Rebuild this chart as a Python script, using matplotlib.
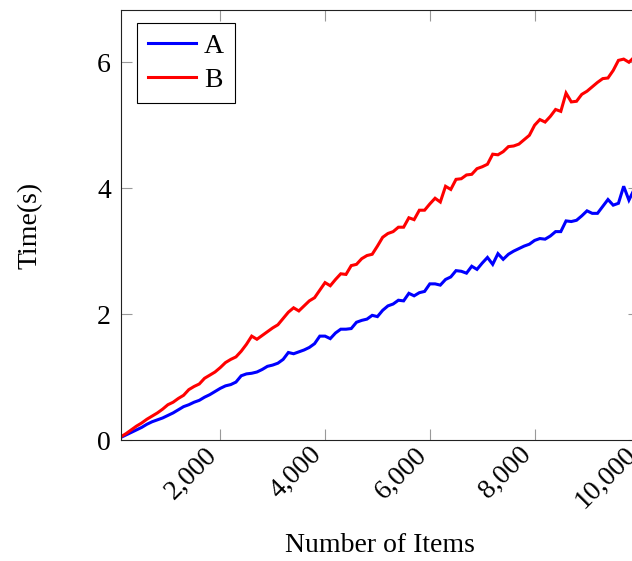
import matplotlib
matplotlib.use("Agg")
import matplotlib.pyplot as plt
from matplotlib.ticker import FuncFormatter, FixedLocator
from matplotlib.transforms import ScaledTranslation

plt.rcParams['font.family'] = ['Liberation Serif', 'DejaVu Serif']

items = list(range(100, 10001, 100))

time_a = [0.04, 0.08, 0.12, 0.16, 0.20, 0.25, 0.29, 0.32, 0.35, 0.39,
          0.43, 0.48, 0.53, 0.56, 0.60, 0.63, 0.68, 0.72, 0.77, 0.82,
          0.86, 0.88, 0.92, 1.02, 1.05, 1.06, 1.08, 1.12, 1.17, 1.19,
          1.22, 1.28, 1.39, 1.37, 1.40, 1.43, 1.47, 1.53, 1.65, 1.65,
          1.61, 1.70, 1.76, 1.76, 1.77, 1.87, 1.90, 1.92, 1.98, 1.96,
          2.06, 2.13, 2.16, 2.22, 2.21, 2.33, 2.29, 2.34, 2.36, 2.48,
          2.48, 2.46, 2.55, 2.59, 2.69, 2.68, 2.65, 2.76, 2.71, 2.81,
          2.90, 2.79, 2.96, 2.87, 2.95, 3.00, 3.04, 3.08, 3.11, 3.17,
          3.20, 3.19, 3.24, 3.31, 3.31, 3.48, 3.47, 3.49, 3.56, 3.64,
          3.60, 3.60, 3.71, 3.82, 3.73, 3.76, 4.03, 3.81, 3.98, 4.02]

time_b = [0.05, 0.10, 0.16, 0.22, 0.27, 0.33, 0.38, 0.43, 0.49, 0.56,
          0.60, 0.66, 0.71, 0.80, 0.85, 0.89, 0.98, 1.03, 1.08, 1.15,
          1.23, 1.28, 1.32, 1.41, 1.52, 1.65, 1.60, 1.66, 1.72, 1.78,
          1.83, 1.93, 2.03, 2.10, 2.05, 2.13, 2.21, 2.26, 2.38, 2.50,
          2.45, 2.55, 2.64, 2.63, 2.77, 2.79, 2.88, 2.93, 2.95, 3.08,
          3.22, 3.28, 3.31, 3.38, 3.38, 3.53, 3.50, 3.65, 3.65, 3.75,
          3.84, 3.78, 4.03, 3.98, 4.14, 4.15, 4.21, 4.22, 4.31, 4.34,
          4.38, 4.54, 4.53, 4.58, 4.66, 4.67, 4.70, 4.77, 4.84, 5.00,
          5.09, 5.05, 5.14, 5.25, 5.22, 5.51, 5.37, 5.38, 5.49, 5.54,
          5.61, 5.68, 5.74, 5.75, 5.87, 6.03, 6.05, 6.00, 6.08, 6.12]

series_names = ['A', 'B']
x_ticks = [2000, 4000, 6000, 8000, 10000]
y_ticks = [0, 2, 4, 6]

W, H = 632, 561
fig = plt.figure(figsize=(W / 100, H / 100), dpi=100)
left, right, bottom, top = 120.7, 639.4, 440, 10
ax = fig.add_axes([left / W, 1 - bottom / H, (right - left) / W, (bottom - top) / H])

ax.plot(items, time_a, color='#0000ff', lw=2.2, label=series_names[0], solid_joinstyle='miter')
ax.plot(items, time_b, color='#ff0000', lw=2.2, label=series_names[1], solid_joinstyle='miter')

ax.set_xlim(100, 10000)
ax.set_ylim(0, 6.83)
ax.xaxis.set_major_locator(FixedLocator(x_ticks))
ax.yaxis.set_major_locator(FixedLocator(y_ticks))
ax.xaxis.set_major_formatter(FuncFormatter(lambda v, p: f"{int(v):,}"))
ax.yaxis.set_major_formatter(FuncFormatter(lambda v, p: f"{int(v)}"))

fs = 20
ax.tick_params(axis='both', direction='in', length=8, width=0.8, color='#999999',
               top=True, right=True, labelsize=fs)
ax.tick_params(axis='y', pad=7)
ax.tick_params(axis='x', pad=8)

for s in ax.spines.values():
    s.set_color('#222222')
    s.set_linewidth(0.8)

ax.set_xlabel('Number of Items', fontsize=fs, labelpad=0)
ax.set_ylabel('Time(s)', fontsize=fs, labelpad=0)
fig.canvas.draw()
offset = ScaledTranslation(-0.07, 0, fig.dpi_scale_trans)
for lab in ax.get_xticklabels():
    lab.set_rotation(45)
    lab.set_ha('right')
    lab.set_va('center')
    lab.set_rotation_mode('anchor')
    lab.set_transform(lab.get_transform() + offset)
ax.xaxis.set_label_coords(380 / W, 1 - 545 / H, transform=fig.transFigure)
ax.yaxis.set_label_coords(30 / W, 1 - 225 / H, transform=fig.transFigure)
ax.xaxis.label.set_va('center')
ax.yaxis.label.set_va('center')

leg = ax.legend(loc='upper left', bbox_to_anchor=(137 / W, 1 - 23 / H),
                bbox_transform=fig.transFigure, borderaxespad=0,
                fancybox=False, edgecolor='black', framealpha=1,
                fontsize=fs, handlelength=1.75, handletextpad=0.28,
                borderpad=0.38, labelspacing=0.3)
leg.get_frame().set_linewidth(0.8)

fig.savefig('out.png', dpi=100)
